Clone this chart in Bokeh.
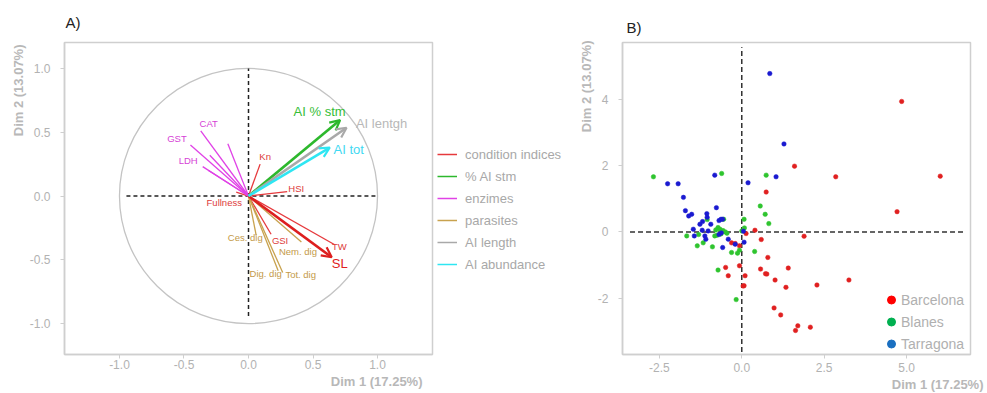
from bokeh.plotting import figure
from bokeh.models import (ColumnDataSource, Range1d, FixedTicker, NumeralTickFormatter,
                          Legend, LegendItem, Arrow, OpenHead, Title)
from bokeh.layouts import row
from bokeh.embed import file_html
from bokeh.resources import INLINE
from bokeh.core.properties import value

FONT = "Liberation Sans"
NAN = float("nan")

# ---------------- Panel A data: variable coordinates (Dim 1, Dim 2) ----------------
var_names = ["Kn", "HSI", "Fullness", "GSI", "TW", "SL",
             "AI % stm",
             "CAT", "GST", "LDH", "", "", "",
             "Ces. dig", "Nem. dig", "Dig. dig", "Tot. dig",
             "AI lentgh",
             "AI tot"]
var_dim1 = [0.09, 0.30, -0.095, 0.175, 0.665, 0.645,
            0.71,
            -0.37, -0.45, -0.355, -0.16, -0.30, -0.31,
            0.06, 0.41, 0.23, 0.265,
            0.76,
            0.63]
var_dim2 = [0.25, 0.035, 0.03, -0.30, -0.38, -0.48,
            0.595,
            0.51, 0.40, 0.23, 0.41, 0.32, 0.20,
            -0.31, -0.36, -0.585, -0.60,
            0.535,
            0.38]
var_group = ["condition indices"] * 6 + ["% AI stm"] + ["enzimes"] * 6 + ["parasites"] * 4 + ["AI length"] + ["AI abundance"]

groups = ["condition indices", "% AI stm", "enzimes", "parasites", "AI length", "AI abundance"]

# ---------------- Panel B data: individuals ----------------
barc_x = [4.85, 1.60, 2.85, 6.02, 0.74, 4.71, -0.31, -0.20, -0.07, 0.13, 0.40, 0.59, 1.89, 0.79,
          -0.07, -0.49, -0.41, 0.10, 0.04, 0.07, 0.57, 0.76, 0.72, 1.41, 1.01, 1.34, 2.28, 3.25,
          0.98, 1.18, 1.70, 1.63, 2.08]
barc_y = [3.93, 1.98, 1.66, 1.68, 1.20, 0.61, -0.33, -0.35, -0.42, -0.05, 0.05, -0.23, -0.13, -0.77,
          -1.02, -1.07, -1.32, -1.32, -1.63, -1.62, -1.12, -1.27, -1.26, -1.09, -1.45, -1.67, -1.60, -1.45,
          -2.29, -2.50, -2.83, -2.97, -2.87]
blan_x = [-2.68, -0.61, 0.74, 0.56, 0.71, 0.82, -1.05, -0.55, -0.72, -0.79, -0.82, -0.75, -0.57,
          -0.50, -0.45, -0.66, -1.67, -1.31, -1.35, -1.17, -0.89, -0.31, -0.13, -0.07, 0.00, 0.08,
          0.07, 0.39, -0.72, -0.17, -0.63]
blan_y = [1.66, 1.76, 1.71, 0.78, 0.53, 0.25, 0.37, 0.38, 0.13, 0.06, -0.12, -0.10, 0.04,
          0.00, -0.04, 0.08, -0.12, -0.08, -0.42, -0.33, -0.45, -0.62, -0.64, -0.55, 0.03, 0.12,
          0.38, -0.59, -1.15, -2.04, -0.06]
tarr_x = [0.85, 1.28, -2.25, -1.93, -0.82, 0.19, 1.04, -1.77, -1.71, -1.61, -1.52, -0.77, -1.06,
          -1.05, -1.19, -1.27, -0.94, -0.69, -0.63, -0.58, -1.47, -1.44, -1.20, -1.02, -1.12, -1.09,
          -0.69, -0.62, -0.58, -0.41, -0.20, 0.07, 0.05]
tarr_y = [4.77, 2.65, 1.45, 1.45, 1.71, 1.48, 1.66, 1.04, 0.64, 0.48, 0.53, 0.73, 0.55,
          0.44, 0.31, 0.23, 0.23, 0.34, 0.38, 0.38, 0.08, -0.12, 0.05, 0.03, -0.12, -0.22,
          -0.08, -0.03, -0.47, -0.22, -0.37, -0.31, 0.02]
sites = ["Barcelona", "Blanes", "Tarragona"]

# ---------------- styles ----------------
group_color = {"condition indices": "#e6393c", "% AI stm": "#2db82d", "enzimes": "#e042e6",
               "parasites": "#c8a24e", "AI length": "#a9a9a9", "AI abundance": "#2ee6f2"}
label_color = {"condition indices": "#dd3b3b", "% AI stm": "#36bd36", "enzimes": "#d63fd6",
               "parasites": "#c49a48", "AI length": "#b8b8b8", "AI abundance": "#3fd9f2"}
big_vars = ["AI % stm", "AI lentgh", "AI tot", "SL"]
label_offsets = {"Kn": (5, -8), "HSI": (9, -3.5), "Fullness": (-12, 10), "GSI": (9, 6),
                 "TW": (5, 2.5), "SL": (8, 6), "AI % stm": (-20.5, -9), "CAT": (8, -7),
                 "GST": (-13.5, -6), "LDH": (-14.5, -6.5), "Ces. dig": (-11, 2),
                 "Nem. dig": (-3.5, 10), "Dig. dig": (-12.5, 3), "Tot. dig": (18, 2),
                 "AI lentgh": (35, -4.5), "AI tot": (19, 1.5)}
AXIS_GREY = "#cfcfcf"
TICK_GREY = "#b2b2b2"
LAB_GREY = "#b8b8b8"
TOP, BOTTOM = 41, 354   # shared frame top / bottom (row aligns frames)
HGT = 393


def style_axes(p, xstand):
    p.xgrid.visible = False
    p.ygrid.visible = False
    p.outline_line_color = AXIS_GREY
    p.outline_line_width = 1.5
    for ax in (p.xaxis[0], p.yaxis[0]):
        ax.axis_line_color = AXIS_GREY
        ax.axis_line_width = 1.5
        ax.major_tick_line_color = AXIS_GREY
        ax.major_tick_in = 0
        ax.major_tick_out = 4
        ax.minor_tick_line_color = None
        ax.major_label_text_color = TICK_GREY
        ax.major_label_text_font = FONT
        ax.major_label_text_font_size = "12px"
    p.yaxis[0].major_label_standoff = 10
    p.xaxis[0].major_label_standoff = xstand


def add_titles(p, panel_txt, panel_standoff, panel_offset, xlab_offset, ylab_offset):
    p.add_layout(Title(text=panel_txt, align="left", text_font=FONT, text_font_size="15px",
                       text_font_style="normal", text_color="#222222", standoff=panel_standoff,
                       offset=panel_offset), "above")
    p.add_layout(Title(text="Dim 2 (13.07%)", align="right", text_font=FONT, text_font_size="13px",
                       text_font_style="bold", text_color=LAB_GREY, standoff=2,
                       offset=ylab_offset), "left")
    p.add_layout(Title(text="Dim 1 (17.25%)", align="right", text_font=FONT, text_font_size="13px",
                       text_font_style="bold", text_color=LAB_GREY, standoff=0,
                       offset=xlab_offset), "below")


# ================= Panel A =================
WA = 435
pa = figure(width=WA, height=HGT,
            x_range=Range1d(-1.426, 1.426),
            y_range=Range1d((195 - BOTTOM) / 128, (195 - TOP) / 128),
            output_backend="svg", toolbar_location=None,
            min_border_left=64, min_border_right=WA - 432, min_border_top=TOP,
            min_border_bottom=HGT - BOTTOM)
style_axes(pa, 1)
pa.xaxis[0].ticker = FixedTicker(ticks=[-1, -0.5, 0, 0.5, 1])
pa.yaxis[0].ticker = FixedTicker(ticks=[-1, -0.5, 0, 0.5, 1])
pa.xaxis[0].formatter = NumeralTickFormatter(format="0.0")
pa.yaxis[0].formatter = NumeralTickFormatter(format="0.0")

# correlation circle
pa.ellipse(x=0, y=0, width=2, height=2, fill_color=None, line_color="#c4c4c4", line_width=1.3)
# reference dashed lines
pa.segment(x0=[-0.946, 0], y0=[0, -0.94], x1=[0.99, 0], y1=[0, 1.0],
           line_color="#222222", line_width=1.5, line_dash="4 3")

small_src = dict(x0=[], y0=[], x=[], y=[], c=[])
for n, x, y, g in zip(var_names, var_dim1, var_dim2, var_group):
    if n in big_vars:
        col = "#dd1f1f" if n == "SL" else group_color[g]
        pa.add_layout(Arrow(end=OpenHead(size=10, line_color=col, line_width=2.2),
                            x_start=0, y_start=0, x_end=x, y_end=y,
                            line_color=col, line_width=2.6))
    else:
        small_src["x0"].append(0)
        small_src["y0"].append(0)
        small_src["x"].append(x)
        small_src["y"].append(y)
        small_src["c"].append(group_color[g])
pa.segment(x0="x0", y0="y0", x1="x", y1="y", line_color="c", line_width=1.3,
           source=ColumnDataSource(small_src))

# variable labels
for big in (False, True):
    d = dict(x=[], y=[], t=[], dx=[], dy=[], c=[])
    for n, x, y, g in zip(var_names, var_dim1, var_dim2, var_group):
        if not n or (n in big_vars) != big:
            continue
        ox, oy = label_offsets.get(n, (0, 0))
        d["x"].append(x)
        d["y"].append(y)
        d["t"].append(n)
        d["dx"].append(ox)
        d["dy"].append(oy)
        d["c"].append("#e02020" if n == "SL" else label_color[g])
    pa.text(x="x", y="y", text="t", x_offset="dx", y_offset="dy", text_color="c",
            text_align="center", text_baseline="middle", text_font=value(FONT),
            text_font_size="13px" if big else "9.5px", source=ColumnDataSource(d))
add_titles(pa, "A)", 23, 1, 10, 2)

# ================= Legend strip for panel A =================
WL = 575 - WA
pl = figure(width=WL, height=HGT, x_range=Range1d(0, 1), y_range=Range1d(0, 1),
            x_axis_type=None, y_axis_type=None, output_backend="svg", toolbar_location=None,
            min_border_left=0, min_border_right=0, min_border_top=TOP,
            min_border_bottom=HGT - BOTTOM)
pl.xgrid.visible = False
pl.ygrid.visible = False
pl.outline_line_color = None
items = []
for g in groups:
    r = pl.line(x=[NAN], y=[NAN], line_color=group_color[g], line_width=1.5)
    items.append(LegendItem(label=g, renderers=[r]))
lega = Legend(items=items, location=(437 - WA, BOTTOM - 275), glyph_width=20, glyph_height=22,
              label_height=22, spacing=0, padding=0, margin=0, label_standoff=8,
              border_line_color=None, background_fill_alpha=0, label_text_color="#a8a8a8",
              label_text_font=FONT, label_text_font_size="13px")
pl.add_layout(lega)

# ================= Panel B =================
WB = 412
pb = figure(width=WB, height=HGT,
            x_range=Range1d(-3.618, 6.938),
            y_range=Range1d((231 - BOTTOM) / 33.3, (231 - TOP) / 33.3),
            output_backend="svg", toolbar_location=None,
            min_border_left=619 - 575, min_border_right=WB - (970 - 575), min_border_top=TOP,
            min_border_bottom=HGT - BOTTOM)
style_axes(pb, 4)
pb.xaxis[0].ticker = FixedTicker(ticks=[-2.5, 0, 2.5, 5])
pb.yaxis[0].ticker = FixedTicker(ticks=[-2, 0, 2, 4])
pb.xaxis[0].formatter = NumeralTickFormatter(format="0.0")
pb.yaxis[0].formatter = NumeralTickFormatter(format="0")

pb.segment(x0=[-3.39, 0], y0=[0, -3.62], x1=[6.74, 0], y1=[0, 5.56],
           line_color="#333333", line_width=1.5, line_dash="5 3")

pt_color = {"Barcelona": "#e02020", "Blanes": "#2fc42f", "Tarragona": "#1a1ad0"}
leg_color = {"Barcelona": "#ff0000", "Blanes": "#00b050", "Tarragona": "#1a6fc0"}
for s, xs, ys in zip(sites, (barc_x, blan_x, tarr_x), (barc_y, blan_y, tarr_y)):
    pb.scatter(x=xs, y=ys, size=4.5, marker="circle", fill_color=pt_color[s],
               line_color=pt_color[s], line_width=0.5)

items_b = []
for s in sites:
    r = pb.scatter(x=[NAN], y=[NAN], marker="circle", fill_color=leg_color[s],
                   line_color=leg_color[s])
    items_b.append(LegendItem(label=s, renderers=[r]))
legb = Legend(items=items_b, location=(259, 0), glyph_width=20, glyph_height=21, label_height=21,
              spacing=1, padding=0, margin=0, label_standoff=0, border_line_color=None,
              background_fill_alpha=0, label_text_color="#b0b0b0", label_text_font=FONT,
              label_text_font_size="14px")
pb.add_layout(legb)
add_titles(pb, "B)", 13, 4, -13, -2)

layout = row(pa, pl, pb)
open("out.html", "w").write(file_html(layout, INLINE))
